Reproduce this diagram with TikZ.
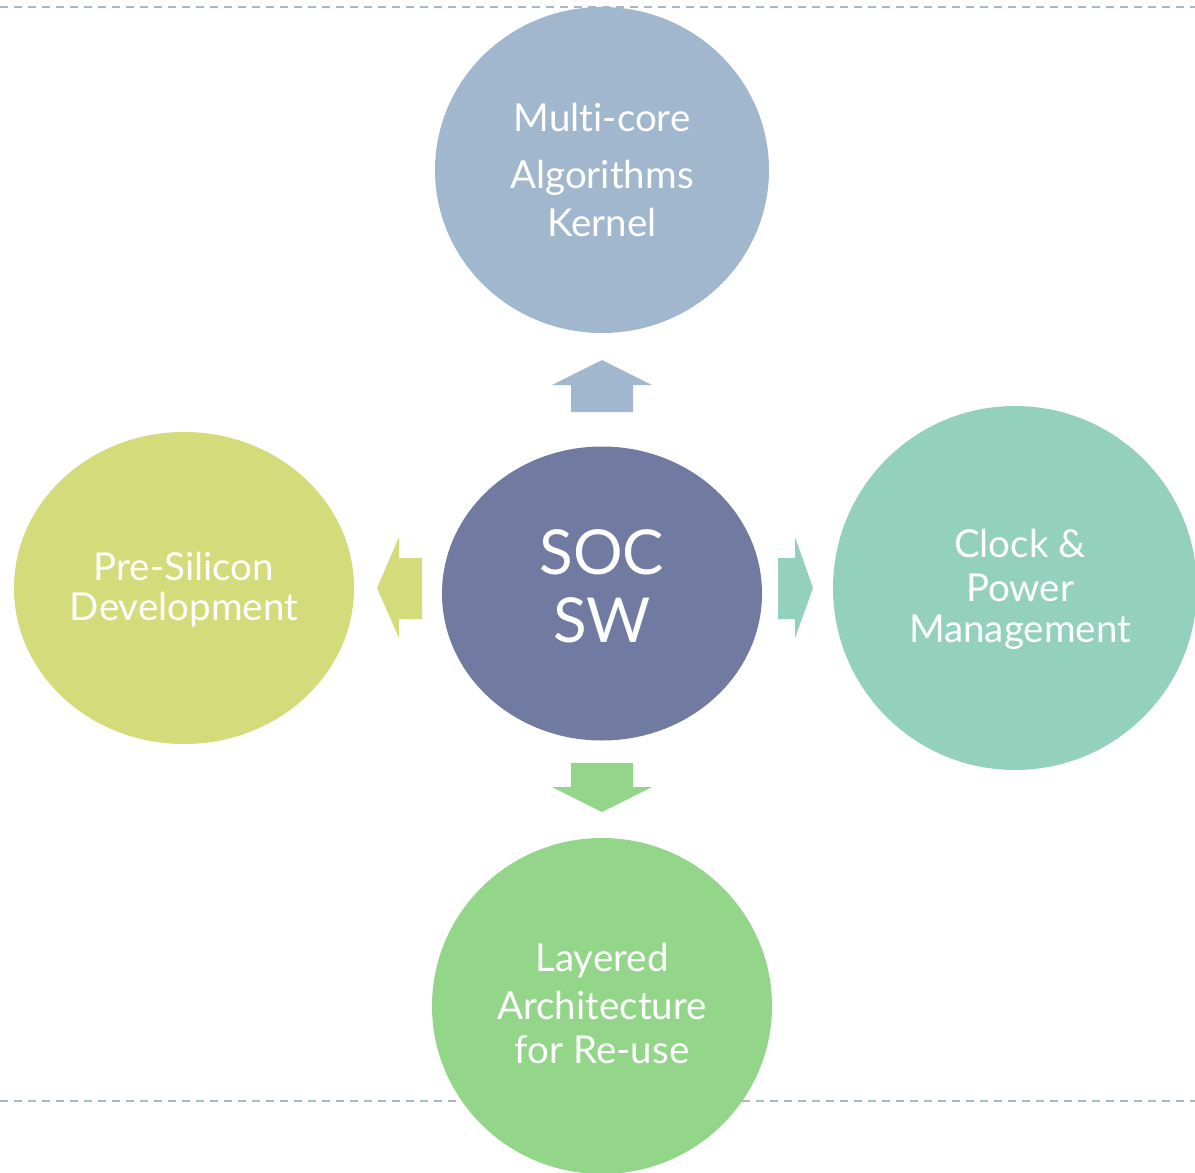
\documentclass[tikz,border=0pt]{standalone}
\usepackage{fontspec}
\setmainfont{Lato}[Ligatures={NoCommon}]
\usetikzlibrary{shapes.geometric}
\definecolor{ctop}{HTML}{A1B7CD}
\definecolor{cmid}{HTML}{717BA1}
\definecolor{cright}{HTML}{94D1BC}
\definecolor{cleft}{HTML}{D3DB7B}
\definecolor{cbot}{HTML}{93D68A}
\definecolor{cdash}{HTML}{A5B9CC}
\tikzset{
  bubble/.style={ellipse, inner sep=0pt},
  lbl/.style={text=white, font=\fontsize{38.5}{42}\selectfont, inner sep=0pt, anchor=center},
  biglbl/.style={text=white, font=\fontsize{62}{66}\selectfont, inner sep=0pt, anchor=center},
  guide/.style={cdash, line width=2.2pt, dash pattern=on 8pt off 6pt}
}
\begin{document}
\begin{tikzpicture}[x=1pt,y=-1pt]
\useasboundingbox (0,0) rectangle (1195,1173);
\clip (0,0) rectangle (1195,1173);
% dashed guides
\coordinate (t1) at (0,7); \coordinate (t2) at (1195,7);
\coordinate (b1) at (0,1101); \coordinate (b2) at (1195,1101);
\draw[guide] (t1) -- (t2);
\draw[guide] (b1) -- (b2);
% circles
\node[bubble, fill=ctop, minimum width=334pt, minimum height=326pt] (top) at (602,170) {};
\node[bubble, fill=cmid, minimum width=320pt, minimum height=294pt] (mid) at (602,593.5) {};
\node[bubble, fill=cright, minimum width=364pt, minimum height=364pt] (right) at (1015,588) {};
\node[bubble, fill=cleft, minimum width=340pt, minimum height=312pt] (left) at (184,588) {};
\node[bubble, fill=cbot, minimum width=340pt, minimum height=336pt] (bot) at (602,1006) {};
% block arrows
\fill[ctop] (571,412) -- (571,385) -- (552,385) -- (602,360) -- (652,385) -- (633,385) -- (633,412) -- cycle;
\fill[cbot] (571,763) -- (633,763) -- (633,787) -- (652,787) -- (602,812) -- (552,787) -- (571,787) -- cycle;
\fill[cright] (778,558) -- (795,558) -- (795,537) -- (813,588) -- (795,638) -- (795,619) -- (778,619) -- cycle;
\fill[cleft] (422,558) -- (399,558) -- (399,537) -- (377,588) -- (399,638) -- (399,619) -- (422,619) -- cycle;
% labels
\node[lbl] (t_a) at (602,117) {Multi-core};
\node[lbl] (t_b) at (602,178) {Algorithms};
\node[lbl] (t_c) at (602,222) {Kernel};
\node[biglbl] (m_a) at (602,552) {SOC};
\node[biglbl] (m_b) at (602,620) {SW};
\node[lbl] (r_a) at (1020,543) {Clock \&};
\node[lbl] (r_b) at (1020,588) {Power};
\node[lbl] (r_c) at (1020,632) {Management};
\node[lbl] (l_a) at (184,566) {Pre-Silicon};
\node[lbl] (l_b) at (184,610) {Development};
\node[lbl] (b_a) at (602,961) {Layered};
\node[lbl] (b_b) at (602,1005) {Architecture};
\node[lbl] (b_c) at (602,1050) {for Re-use};
\end{tikzpicture}
\end{document}
